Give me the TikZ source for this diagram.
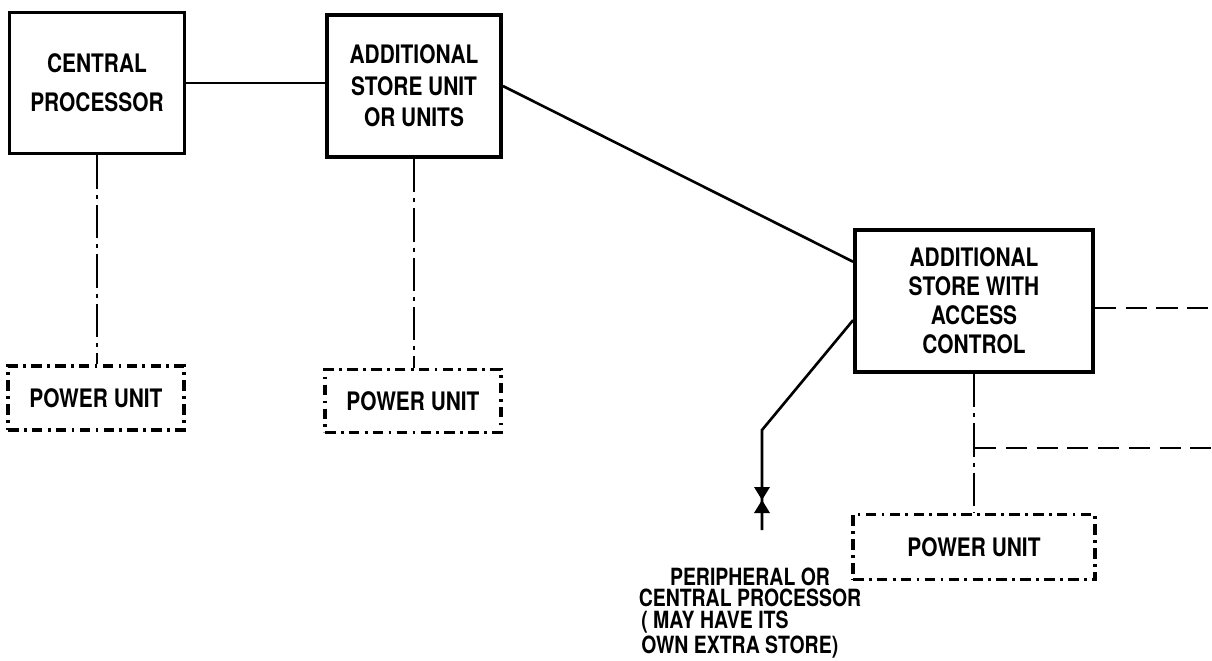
\documentclass[tikz,border=0pt]{standalone}
\usepackage{fontspec}
\setmainfont[FakeStretch=0.82]{TeX Gyre Heros}
\usetikzlibrary{calc}

\begin{document}
\begin{tikzpicture}[
  x=0.02cm,y=-0.02cm,
  every node/.style={font=\bfseries},
  unit/.style={draw,line width=2.2pt,align=center,inner sep=0pt,font=\fontsize{14.5}{18}\selectfont\bfseries},
  power/.style={unit,dash pattern=on 6pt off 3pt on 1.6pt off 3pt},
  link/.style={line width=1.5pt},
  supply/.style={line width=1.5pt,dash pattern=on 19pt off 3.4pt on 2.3pt off 3.4pt},
  spare/.style={line width=1.5pt,dash pattern=on 12pt off 5.5pt}
]
  \useasboundingbox (0,0) rectangle (1212,660);

  \node[unit,minimum width=3.5cm,minimum height=2.82cm,font=\fontsize{14.5}{22}\selectfont\bfseries] (cp) at (97,83) {CENTRAL\\PROCESSOR};
  \node[unit,minimum width=3.48cm,minimum height=2.84cm] (asu) at (414,86) {ADDITIONAL\\STORE UNIT\\OR UNITS};
  \node[unit,minimum width=4.76cm,minimum height=2.84cm,font=\fontsize{14.5}{16.5}\selectfont\bfseries] (asac) at (974,301) {ADDITIONAL\\STORE WITH\\ACCESS\\CONTROL};

  \node[power,minimum width=3.52cm,minimum height=1.28cm] (pu1) at (96,398) {POWER UNIT};
  \node[power,minimum width=3.52cm,minimum height=1.26cm] (pu2) at (413,401) {POWER UNIT};
  \node[power,minimum width=4.84cm,minimum height=1.3cm] (pu3) at (974,547) {POWER UNIT};

  \node[align=center,inner sep=0pt,font=\fontsize{13.5}{12}\selectfont\bfseries] (periph) at (750,587) {PERIPHERAL OR\\CENTRAL PROCESSOR};
  \node[align=left,inner sep=0pt,anchor=north west,font=\fontsize{13.5}{12}\selectfont\bfseries] (extra) at (641,611) {( MAY HAVE ITS\\OWN EXTRA STORE)};

  \coordinate (bend) at (762,430);
  \coordinate (plug) at (762,500);
  \coordinate (tail) at (762,530);
  \coordinate (tap) at (975,448);
  \coordinate (edge1) at (1212,308);
  \coordinate (edge2) at (1212,448);

  % solid links
  \draw[link] (cp.east) -- (cp.east -| asu.west);
  \draw[link] (asu.east) -- (asac.162);
  \draw[link] (asac.189) -- (bend) -- (tail);
  \fill ($(plug)+(-8,-13)$) -- ($(plug)+(8,-13)$) -- (plug) -- cycle;
  \fill ($(plug)+(-8,13)$) -- ($(plug)+(8,13)$) -- (plug) -- cycle;

  % power feeds
  \draw[supply] (cp.south) -- (cp.south |- pu1.north);
  \draw[supply] (asu.south) -- (asu.south |- pu2.north);
  \draw[supply] (asac.south) -- (asac.south |- pu3.north);

  % spare outlets
  \draw[spare] (asac.east |- edge1) -- (edge1);
  \draw[spare] (tap) -- (edge2);
\end{tikzpicture}
\end{document}
